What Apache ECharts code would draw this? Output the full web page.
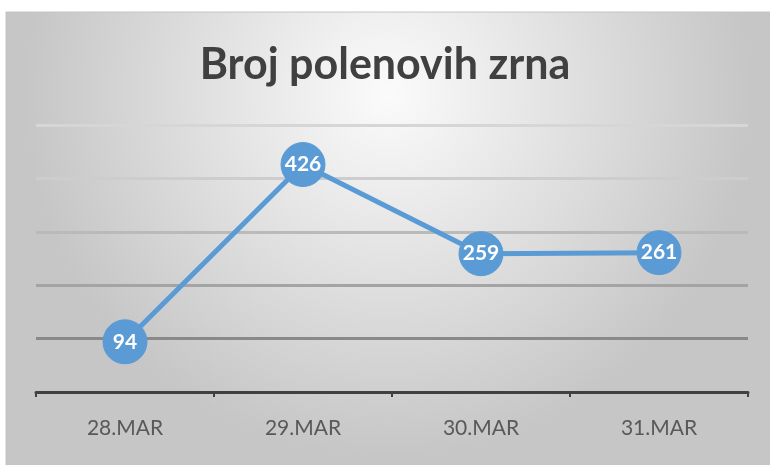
<!DOCTYPE html>
<html>
<head>
<meta charset="utf-8">
<script src="https://cdn.jsdelivr.net/npm/echarts@6/dist/echarts.min.js"></script>
<style>
  html, body { margin: 0; padding: 0; background: #fff; }
  #chart { width: 770px; height: 465px; }
</style>
</head>
<body>
<div id="chart"></div>
<script>
// podaci
const chartTitle = 'Broj polenovih zrna';
const days = ['28.MAR', '29.MAR', '30.MAR', '31.MAR'];
const pollenCounts = [94, 426, 259, 261];

const chart = echarts.init(document.getElementById('chart'));

const option = {
    backgroundColor: '#ffffff',
    animation: false,
    graphic: [
        {
            type: 'rect',
            z: -10,
            shape: { x: 6, y: 12, width: 764, height: 453 },
            style: {
                fill: {
                    type: 'radial', x: 0.5, y: 0.18, r: 0.8,
                    colorStops: [
                        { offset: 0, color: '#fbfbfb' },
                        { offset: 1, color: '#c6c6c6' }
                    ]
                },
                stroke: '#c4c4c4',
                lineWidth: 1
            }
        }
    ],
    title: {
        text: chartTitle,
        left: 'center',
        top: 39,
        textStyle: {
            fontFamily: 'Lato',
            fontWeight: 'bold',
            fontSize: 43,
            color: '#404040'
        }
    },
    grid: {
        left: 36,
        right: 22,
        top: 125,
        bottom: 73
    },
    xAxis: {
        type: 'category',
        data: days,
        boundaryGap: true,
        axisLine: { lineStyle: { color: '#404040', width: 3 } },
        axisTick: { show: true, length: 5, lineStyle: { color: '#404040', width: 2 } },
        axisLabel: {
            margin: 26,
            fontFamily: 'Lato',
            fontSize: 21,
            color: '#595959'
        }
    },
    yAxis: {
        type: 'value',
        min: 0,
        max: 500,
        interval: 100,
        axisLabel: { show: false },
        axisLine: { show: false },
        axisTick: { show: false },
        splitLine: {
            // 0, 100, 200, 300, 400, 500
            lineStyle: {
                width: 3,
                color: ['#8a8a8a', '#898989', '#a4a4a4', '#bababa', '#cdcdcd', '#d6d6d6']
            }
        }
    },
    series: [
        {
            type: 'line',
            data: pollenCounts,
            symbol: 'circle',
            symbolSize: 44,
            itemStyle: { color: '#5b9bd5', borderColor: '#5b9bd5', borderWidth: 1 },
            lineStyle: { color: '#5b9bd5', width: 5 },
            label: {
                show: true,
                position: 'inside',
                color: '#ffffff',
                fontFamily: 'Lato',
                fontWeight: 'bold',
                fontSize: 21
            }
        }
    ]
};

chart.setOption(option);
</script>
</body>
</html>
